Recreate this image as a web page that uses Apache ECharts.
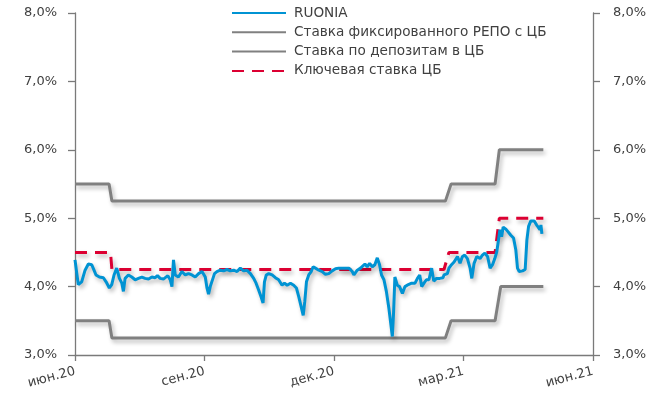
<!DOCTYPE html>
<html>
<head>
<meta charset="utf-8">
<script src="https://cdn.jsdelivr.net/npm/echarts@6/dist/echarts.min.js"></script>
<style>
html,body{margin:0;padding:0;background:#fff;}
#chart{width:667px;height:403px;}
</style>
</head>
<body>
<div id="chart"></div>
<script>
// x values: days since 2020-06-01
const xTickLabels = ['июн.20', 'сен.20', 'дек.20', 'мар.21', 'июн.21'];
const yTickLabels = ['3,0%', '4,0%', '5,0%', '6,0%', '7,0%', '8,0%'];

const seriesNames = ['RUONIA', 'Ставка фиксированного РЕПО с ЦБ', 'Ставка по депозитам в ЦБ', 'Ключевая ставка ЦБ'];

const ruoniaDays = [0, 2.3, 4.7, 7.1, 9.4, 11.8, 13.4, 14.8, 17.2, 20.0, 21.9, 24.2, 25.9, 27.5, 29.4, 31.3, 33.0, 34.1, 35.3, 37.6,
  40.0, 42.4, 44.7, 47.1, 49.4, 51.8, 54.2, 56.5, 58.1, 60.0, 62.3, 65.4, 67.1, 68.3, 69.4, 70.6, 72.9, 75.3, 77.7, 80.0,
  82.4, 84.7, 87.1, 89.5, 91.8, 93.0, 94.1, 95.3, 96.5, 98.3, 100.0, 102.4, 104.7, 107.1, 109.4, 111.8, 114.2, 116.5, 118.8, 121.2,
  123.6, 125.9, 127.6, 129.4, 131.1, 132.5, 133.5, 134.8, 136.5, 138.9, 141.2, 143.5, 145.9, 147.6, 149.5, 151.8, 154.1, 156.0, 157.7, 159.3,
  160.8, 161.9, 163.1, 164.7, 166.4, 167.8, 169.4, 171.8, 174.2, 176.5, 178.8, 181.2, 183.6, 185.9, 188.3, 190.6, 193.0, 195.4, 196.5, 198.9,
  201.2, 202.4, 204.3, 205.9, 207.6, 209.5, 211.3, 213.0, 214.6, 216.0, 217.7, 219.4, 221.2, 222.6, 223.6, 224.5, 225.4, 227.1, 228.7, 230.7,
  232.5, 234.9, 237.2, 239.6, 241.3, 242.9, 244.3, 245.9, 247.6, 249.4, 251.3, 252.8, 254.7, 257.0, 259.3, 260.0, 262.4, 263.5, 265.3, 267.1,
  269.5, 271.3, 273.0, 274.6, 276.5, 278.4, 279.6, 281.2, 283.1, 285.4, 287.1, 288.8, 290.7, 292.5, 294.2, 295.8, 297.2, 298.4, 299.4, 300.6,
  301.7, 303.6, 305.2, 307.1, 309.0, 310.6, 311.8, 313.0, 315.4, 317.2, 318.4, 319.6, 321.2, 323.6, 325.3, 326.4, 327.6, 328.3, 329.0];
const ruoniaValues = [4.39, 4.03, 4.07, 4.24, 4.33, 4.32, 4.24, 4.17, 4.14, 4.13, 4.07, 3.98, 4.03, 4.17, 4.27, 4.12, 4.05, 3.93, 4.12, 4.17,
  4.14, 4.10, 4.12, 4.14, 4.12, 4.11, 4.14, 4.13, 4.16, 4.12, 4.11, 4.16, 4.10, 4.00, 4.39, 4.17, 4.14, 4.22, 4.17, 4.19,
  4.17, 4.14, 4.19, 4.22, 4.14, 3.98, 3.89, 4.00, 4.02, 4.19, 4.22, 4.24, 4.23, 4.25, 4.23, 4.24, 4.22, 4.27, 4.23, 4.24,
  4.19, 4.12, 4.05, 3.95, 3.85, 3.76, 4.07, 4.17, 4.19, 4.17, 4.13, 4.10, 4.02, 4.05, 4.02, 4.05, 4.02, 3.98, 3.85, 3.71,
  3.58, 3.78, 4.07, 4.17, 4.22, 4.29, 4.27, 4.24, 4.22, 4.18, 4.19, 4.23, 4.26, 4.27, 4.27, 4.27, 4.27, 4.22, 4.17, 4.24,
  4.27, 4.29, 4.33, 4.29, 4.34, 4.29, 4.32, 4.42, 4.32, 4.17, 4.10, 3.93, 3.68, 3.44, 3.27, 3.63, 4.14, 4.02, 4.00, 3.90,
  4.00, 4.03, 4.05, 4.05, 4.12, 4.17, 4.00, 4.05, 4.10, 4.10, 4.27, 4.08, 4.12, 4.12, 4.13, 4.17, 4.19, 4.27, 4.32, 4.36,
  4.44, 4.34, 4.44, 4.46, 4.41, 4.27, 4.12, 4.34, 4.44, 4.41, 4.46, 4.49, 4.44, 4.27, 4.32, 4.41, 4.51, 4.68, 4.83, 4.73,
  4.87, 4.84, 4.80, 4.75, 4.71, 4.54, 4.27, 4.22, 4.23, 4.25, 4.68, 4.88, 4.96, 4.96, 4.90, 4.87, 4.83, 4.90, 4.77];

const repoDays = [0, 24, 26, 261, 265, 296, 299, 330];
const repoValues = [5.5, 5.5, 5.25, 5.25, 5.5, 5.5, 6.0, 6.0];

const depositDays = [0, 24, 26, 261, 265, 296, 300, 330];
const depositValues = [3.5, 3.5, 3.25, 3.25, 3.5, 3.5, 4.0, 4.0];

const keyDays = [0, 25, 26, 260, 263.5, 296, 299, 330];
const keyValues = [4.5, 4.5, 4.25, 4.25, 4.5, 4.5, 5.0, 5.0];

const pairs = (xs, ys) => xs.map((x, i) => [x, ys[i]]);

const FONT = 'DejaVu Sans';
const TXT = '#404040';
const AXIS = '#7a7a7a';
const shadow = { shadowColor: 'rgba(0,0,0,0.28)', shadowBlur: 4, shadowOffsetX: 2, shadowOffsetY: 3 };

const chart = echarts.init(document.getElementById('chart'), null, { renderer: 'canvas' });

const yAxisCommon = {
  type: 'value', min: 3, max: 8, interval: 1,
  axisLine: { show: true, lineStyle: { color: AXIS, width: 1.3 } },
  axisTick: { show: true, inside: false, length: 7, lineStyle: { color: AXIS, width: 1.3 } },
  splitLine: { show: false },
  axisLabel: {
    margin: 20, color: TXT, fontFamily: FONT, fontSize: 13,
    formatter: v => yTickLabels[Math.round(v - 3)]
  }
};

chart.setOption({
  animation: false,
  backgroundColor: '#fff',
  grid: { left: 75, right: 74, top: 13, bottom: 48, containLabel: false },
  legend: {
    orient: 'vertical', left: 231, top: 6, padding: 0,
    itemWidth: 54, itemHeight: 14, itemGap: 5.3,
    itemStyle: { opacity: 0 },
    textStyle: { color: TXT, fontFamily: FONT, fontSize: 13.6, padding: [0, 0, 0, 3] },
    data: seriesNames
  },
  xAxis: {
    type: 'value', min: 0, max: 365, interval: 91.25,
    axisLine: { show: true, onZero: false, lineStyle: { color: AXIS, width: 1.3 } },
    axisTick: { show: true, length: 6, lineStyle: { color: AXIS, width: 1.3 } },
    splitLine: { show: false },
    axisLabel: {
      rotate: 15, margin: 16, color: TXT, fontFamily: FONT, fontSize: 13,
      formatter: v => xTickLabels[Math.round(v / 91.25)]
    }
  },
  yAxis: [
    Object.assign({}, yAxisCommon, { position: 'left', axisLabel: Object.assign({}, yAxisCommon.axisLabel, { margin: 18 }) }),
    Object.assign({}, yAxisCommon, { position: 'right' })
  ],
  series: [
    { name: seriesNames[1], type: 'line', symbol: 'none', showSymbol: false, data: pairs(repoDays, repoValues),
      lineStyle: Object.assign({ color: '#808080', width: 3 }, shadow), itemStyle: { color: '#808080' } },
    { name: seriesNames[2], type: 'line', symbol: 'none', showSymbol: false, data: pairs(depositDays, depositValues),
      lineStyle: Object.assign({ color: '#808080', width: 3 }, shadow), itemStyle: { color: '#808080' } },
    { name: seriesNames[3], type: 'line', symbol: 'none', showSymbol: false, data: pairs(keyDays, keyValues),
      lineStyle: Object.assign({ color: '#DC0032', width: 3, type: [12, 8] }, shadow), itemStyle: { color: '#DC0032' } },
    { name: seriesNames[0], type: 'line', symbol: 'none', showSymbol: false, data: pairs(ruoniaDays, ruoniaValues),
      lineStyle: Object.assign({ color: '#0093D3', width: 3 }, shadow), itemStyle: { color: '#0093D3' } }
  ]
});
</script>
</body>
</html>
